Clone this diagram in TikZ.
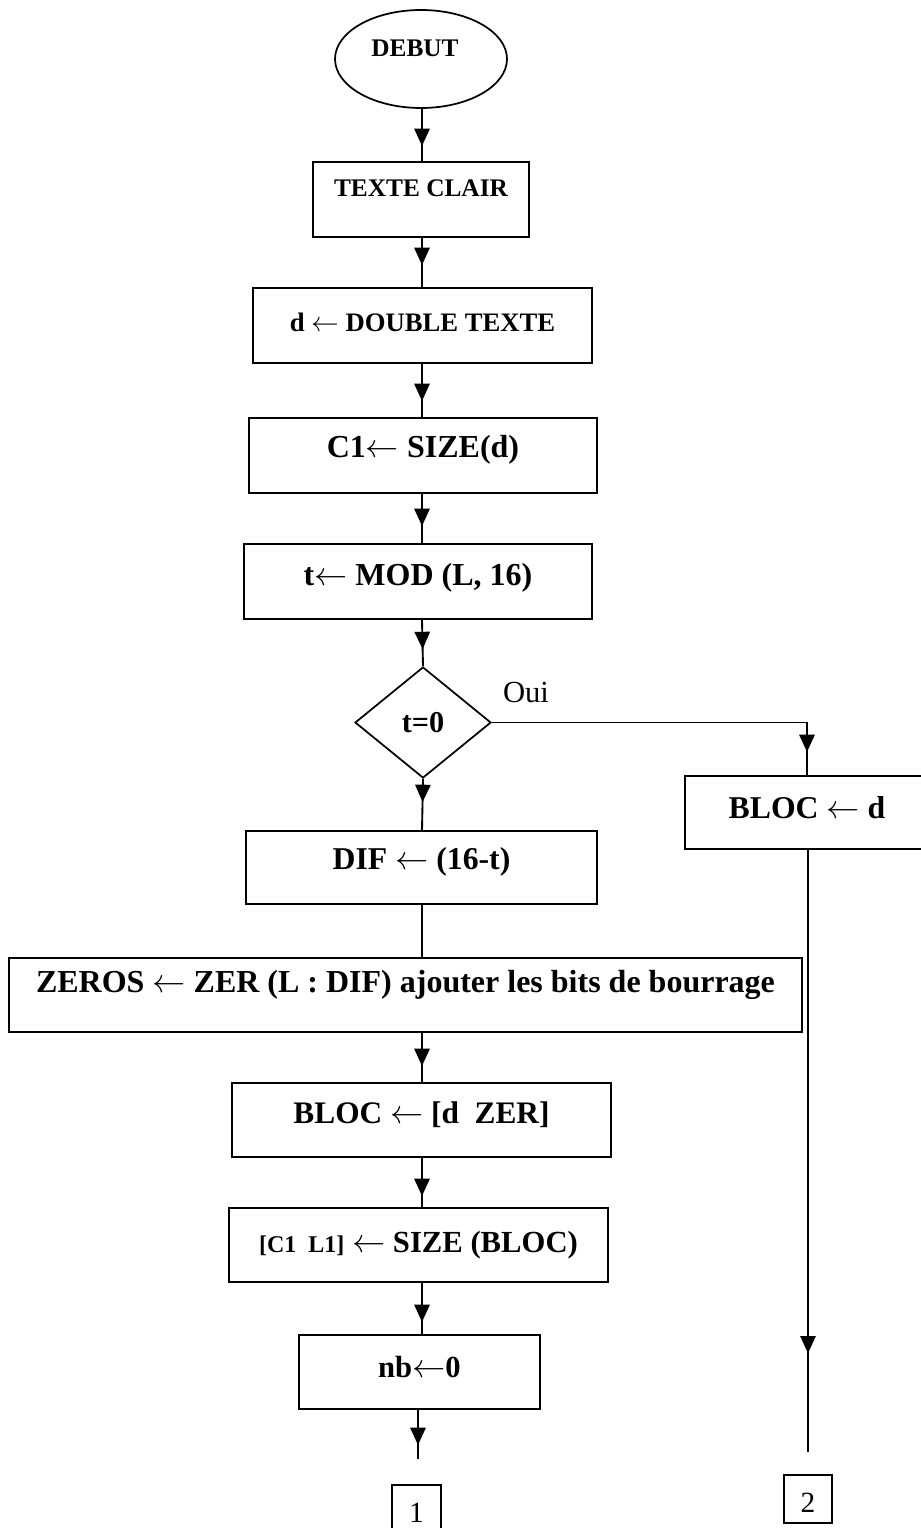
\documentclass[tikz,border=0pt]{standalone}
\usepackage{fontspec}
\setmainfont{Liberation Serif}
\usetikzlibrary{shapes.geometric,arrows.meta,decorations.markings}

\newcommand{\fs}[1]{\fontsize{#1}{#1}\selectfont}

\tikzset{
  box/.style={draw, rectangle, line width=1.5pt, inner sep=0pt},
  refbox/.style={draw, rectangle, line width=0.8pt, inner sep=0pt},
  lbl/.style={font=\bfseries\fs{#1}, inner sep=0pt},
  plain/.style={font=\fs{#1}, inner sep=0pt},
  wire/.style={line width=1.4pt},
  flow/.style={wire, postaction={decorate},
    decoration={markings, mark=at position -#1 with {\arrow{Triangle[length=13pt,width=11.5pt]}}}},
}

\begin{document}
\begin{tikzpicture}[x=0.75pt,y=-0.75pt]
\useasboundingbox (0,0) rectangle (921,1528);

% main column axis and the right-hand branch axis
\coordinate (axis) at (422,0);
\coordinate (raxis) at (807,0);

% start
\node[draw, ellipse, line width=1.3pt, inner sep=0pt,
      minimum width=129pt, minimum height=73.5pt,
      label={[lbl=19pt, xshift=-4.5pt, yshift=8.25pt]center:DEBUT}] (start) at (421,59) {};

% process boxes of the main column
\node[box, minimum width=162pt, minimum height=56.25pt,
      label={[lbl=19pt, yshift=8.6pt]center:TEXTE CLAIR}] (clair) at (421,199.5) {};
\node[box, minimum width=254.25pt, minimum height=56.25pt,
      label={[lbl=20pt, yshift=2.6pt]center:d {\mdseries$\leftarrow$} DOUBLE TEXTE}] (dbl) at (422.5,325.5) {};
\node[box, minimum width=261pt, minimum height=56.25pt,
      label={[lbl=24pt, yshift=4.1pt]center:C1{\mdseries$\leftarrow$} SIZE(d)}] (size) at (423,455.5) {};
\node[box, minimum width=261pt, minimum height=56.25pt,
      label={[lbl=24pt, yshift=2.6pt]center:t{\mdseries$\leftarrow$} MOD (L, 16)}] (mod) at (418,581.5) {};

% decision
\node[draw, diamond, line width=1.3pt, inner sep=0pt,
      minimum width=102pt, minimum height=83.25pt,
      label={[lbl=22.7pt]center:t=0}] (test) at (423,722.5) {};
\node[plain=23pt] (oui) at (526,692) {Oui};

% branch "Oui"
\node[box, minimum width=183pt, minimum height=54.75pt,
      label={[lbl=23.8pt, yshift=3.4pt]center:BLOC {\mdseries$\leftarrow$} d}] (blocd) at (807,812.5) {};

% branch "Non"
\node[box, minimum width=263.25pt, minimum height=54.75pt,
      label={[lbl=23.8pt, yshift=4.1pt]center:DIF {\mdseries$\leftarrow$} (16-t)}] (dif) at (421.5,867.5) {};
\node[box, minimum width=594.75pt, minimum height=55.5pt,
      label={[lbl=24pt, yshift=7.5pt]center:ZEROS {\mdseries$\leftarrow$} ZER (L : DIF) ajouter les bits de bourrage}] (zeros) at (405.5,995) {};
\node[box, minimum width=284.25pt, minimum height=55.5pt,
      label={[lbl=23.5pt, yshift=3.75pt]center:BLOC {\mdseries$\leftarrow$} [d~~ZER]}] (bloc) at (421.5,1120) {};
\node[box, minimum width=284.25pt, minimum height=55.5pt,
      label={[lbl=23pt]center:{\fs{18pt}[C1~~L1]} {\mdseries$\leftarrow$} SIZE (BLOC)}] (cl) at (418.5,1245) {};
\node[box, minimum width=180.75pt, minimum height=55.5pt,
      label={[lbl=23pt, yshift=3.75pt]center:nb{\mdseries$\leftarrow$}0}] (nb) at (419.5,1372) {};

% connectors towards the continuation marks
\coordinate (end1) at (418,1459);
\coordinate (end2) at (808,1452);
\node[refbox, minimum width=36.75pt, minimum height=37.5pt,
      label={[plain=22pt, yshift=-2.25pt]center:1}] (ref1) at (416.5,1510) {};
\node[refbox, minimum width=36pt, minimum height=36pt,
      label={[plain=22pt, yshift=-3pt]center:2}] (ref2) at (808,1499) {};

% flow lines
\draw[flow=11.25pt] (start.south -| axis) -- (clair.north -| axis);
\draw[flow=16.5pt]  (clair.south -| axis) -- (dbl.north -| axis);
\draw[flow=12pt]    (dbl.south -| axis) -- (size.north -| axis);
\draw[flow=12.75pt] (size.south -| axis) -- (mod.north -| axis);
\draw[flow=12.75pt] (mod.south -| axis) -- (test.north);
\draw[flow=17.25pt] (test.east) -| (blocd.north -| raxis);
\draw[flow=21pt]    (test.south) -- (dif.north -| axis);
\draw[wire]         (dif.south -| axis) -- (zeros.north -| axis);
\draw[flow=12pt]    (zeros.south -| axis) -- (bloc.north -| axis);
\draw[flow=8.25pt]  (bloc.south -| axis) -- (cl.north -| axis);
\draw[flow=9pt]     (cl.south -| axis) -- (nb.north -| axis);
\draw[flow=10.5pt]  (nb.south -| end1) -- (end1);
\draw[flow=74pt]    (blocd.south -| end2) -- (end2);
\end{tikzpicture}
\end{document}
